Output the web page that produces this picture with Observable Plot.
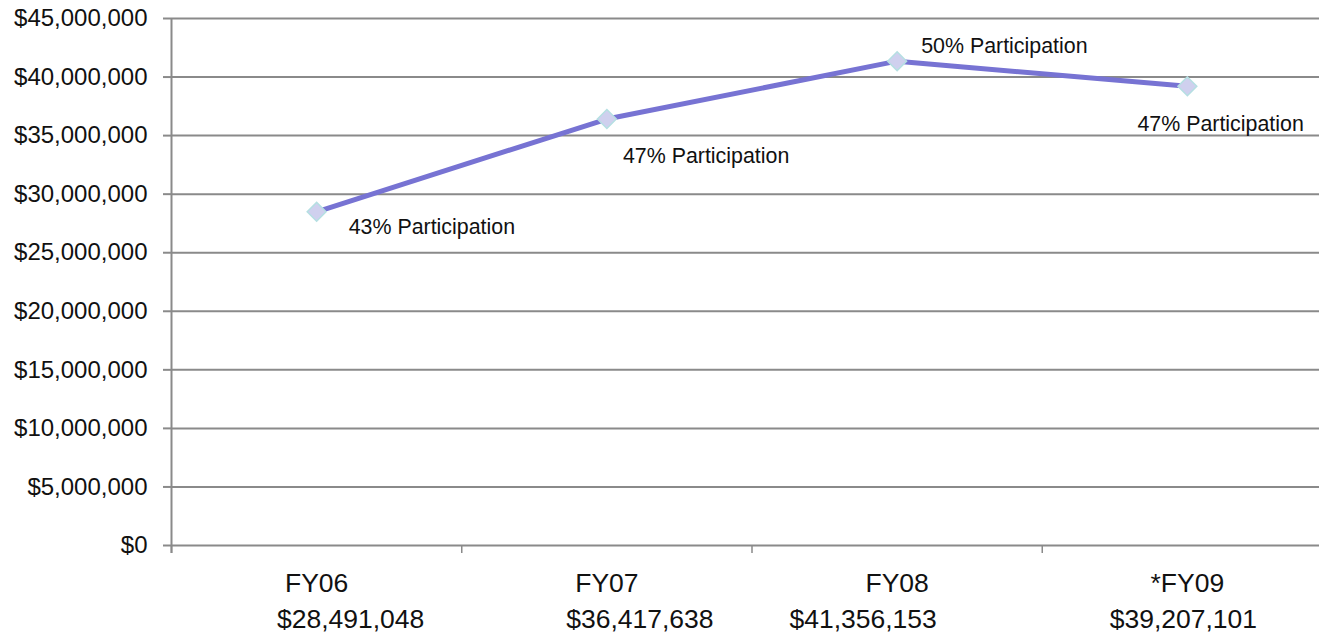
<!DOCTYPE html>
<html><head><meta charset="utf-8">
<script src="https://cdn.jsdelivr.net/npm/d3@7"></script>
<script src="https://cdn.jsdelivr.net/npm/@observablehq/plot@0.6"></script>
<style>body{margin:0;background:#fff}</style>
</head><body><div id="chart"></div>
<script>
const years = ["FY06", "FY07", "FY08", "*FY09"];
const totals = [28491048, 36417638, 41356153, 39207101];
const participation = ["43% Participation", "47% Participation", "50% Participation", "47% Participation"];
const yTicks = [0, 5000000, 10000000, 15000000, 20000000, 25000000, 30000000, 35000000, 40000000, 45000000];

const data = years.map((year, i) => ({idx: i, year, total: totals[i], label: participation[i]}));
const bandEdges = years.map((_, i) => i - 0.5);
const money = d => "$" + d3.format(",")(d);
const grid = "#8a8a8a";

const ann = (i, dx, dy) => Plot.text(data.filter(d => d.idx === i), {
  x: "idx", y: "total", text: "label", textAnchor: "start", dx, dy, fontSize: 21.4, fill: "#111"
});
const totalLabel = (i, dx) => Plot.axisX([i], {label: null, tickSize: 0, tickPadding: 64, lineAnchor: "top",
  fontSize: 26.5, fill: "#111", dx, tickFormat: j => money(totals[j])});

const chart = Plot.plot({
  width: 1319,
  height: 634,
  marginLeft: 171,
  marginRight: 0,
  marginTop: 18,
  marginBottom: 89,
  style: {fontFamily: "'Liberation Sans', Arial, sans-serif", background: "#fff"},
  x: {type: "linear", domain: [-0.5, 3.5], range: [171, 1332], axis: null},
  y: {domain: [0, 45000000], axis: null},
  marks: [
    Plot.gridY(yTicks, {stroke: grid, strokeOpacity: 1, strokeWidth: 2}),
    Plot.axisY(yTicks, {label: null, tickSize: 8, tickPadding: 16, tickFormat: money, fontSize: 24, stroke: grid, fill: "#111", strokeWidth: 2}),
    Plot.ruleX([-0.5], {stroke: grid, strokeWidth: 2, insetBottom: -8}),
    Plot.axisX(bandEdges, {label: null, tickSize: 8, tickFormat: () => "", stroke: grid, strokeWidth: 1.5}),
    Plot.axisX(data.map(d => d.idx), {label: null, tickSize: 0, tickPadding: 28, lineAnchor: "top", fontSize: 26.5, fill: "#111",
      tickFormat: i => years[i]}),
    totalLabel(0, 34),
    totalLabel(1, 33),
    totalLabel(2, -34),
    totalLabel(3, -4),
    Plot.line(data, {x: "idx", y: "total", stroke: "#7773d3", strokeWidth: 5}),
    Plot.dot(data, {x: "idx", y: "total", symbol: "diamond2", r: 8.5, fill: "#cfd0ee", stroke: "#b5dfe2", strokeWidth: 1.5}),
    ann(0, 32, 15),
    ann(1, 16, 37),
    ann(2, 24, -15),
    ann(3, -50, 38)
  ]
});
document.getElementById("chart").append(chart);
</script>
</body></html>
